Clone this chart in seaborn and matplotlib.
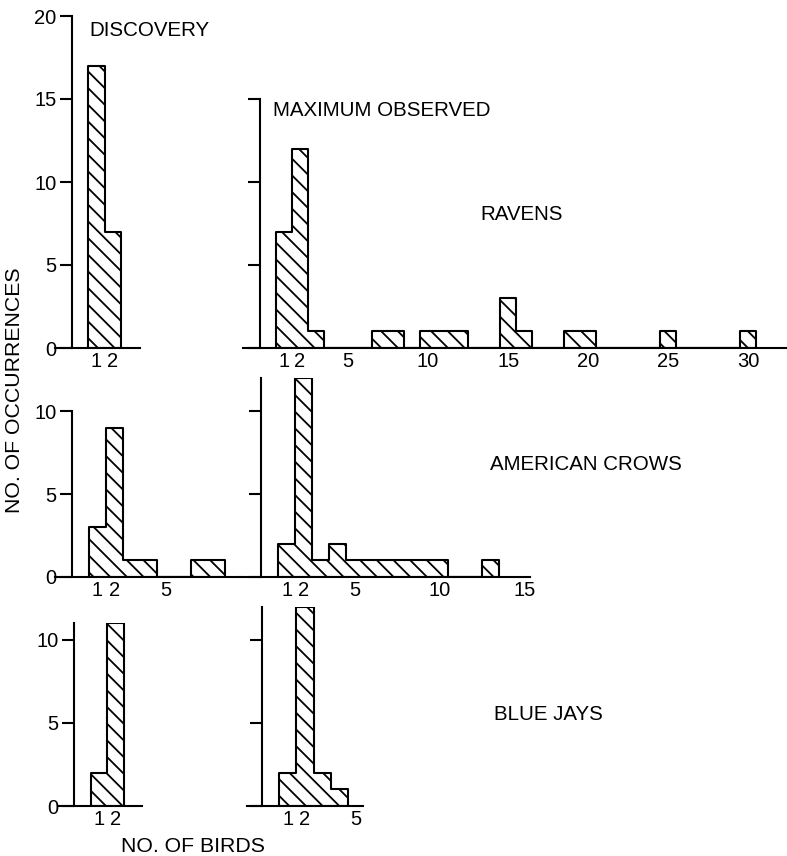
import matplotlib
matplotlib.use("Agg")
import matplotlib.pyplot as plt
import pandas as pd
import seaborn as sns

# ---------------------------------------------------------------------------
# Data: group size (no. of birds) -> no. of occurrences
# ---------------------------------------------------------------------------
RAVEN_DISC_BIRDS = [1, 2]
RAVEN_DISC_COUNTS = [17, 7]

RAVEN_MAX_BIRDS = [1, 2, 3, 7, 8, 10, 11, 12, 15, 16, 19, 20, 25, 30]
RAVEN_MAX_COUNTS = [7, 12, 1, 1, 1, 1, 1, 1, 3, 1, 1, 1, 1, 1]

CROW_DISC_BIRDS = [1, 2, 3, 4, 7, 8]
CROW_DISC_COUNTS = [3, 9, 1, 1, 1, 1]

CROW_MAX_BIRDS = [1, 2, 3, 4, 5, 6, 7, 8, 9, 10, 13]
CROW_MAX_COUNTS = [2, 12, 1, 2, 1, 1, 1, 1, 1, 1, 1]

JAY_DISC_BIRDS = [1, 2]
JAY_DISC_COUNTS = [2, 11]

JAY_MAX_BIRDS = [1, 2, 3, 4]
JAY_MAX_COUNTS = [2, 12, 2, 1]

RAVEN_XTICKS_DISC = [1, 2]
RAVEN_XTICKS_MAX = [1, 2, 5, 10, 15, 20, 25, 30]
CROW_XTICKS_DISC = [1, 2, 5]
CROW_XTICKS_MAX = [1, 2, 5, 10, 15]
JAY_XTICKS_DISC = [1, 2]
JAY_XTICKS_MAX = [1, 2, 5]

# ---------------------------------------------------------------------------
# Layout (pixels of the 787 x 856 output)
# ---------------------------------------------------------------------------
W, H = 787, 856
PX_PER_COUNT = 16.6

sns.set_theme(style="ticks")
plt.rcParams["font.family"] = ["Liberation Sans", "DejaVu Sans"]
plt.rcParams["text.color"] = "black"
plt.rcParams["hatch.linewidth"] = 1.3
plt.rcParams["hatch.color"] = "black"

LW = 1.5
TICK_FS = 14.5
TITLE_FS = 14.8


def draw_panel(fig, birds, counts, x0, x1, base, xlim, ytop, yticks, xticks,
               ylabels=True):
    """One step-histogram panel, positioned in pixel coordinates."""
    top = base - ytop * PX_PER_COUNT
    ax = fig.add_axes([x0 / W, 1 - base / H, (x1 - x0) / W, (base - top) / H])
    ax.set_facecolor("none")

    df = pd.DataFrame({"birds": birds, "count": counts})
    sns.histplot(
        data=df, x="birds", weights="count", discrete=True,
        element="step", fill=True, alpha=1,
        facecolor="white", edgecolor="black", linewidth=LW,
        hatch="\\\\", ax=ax,
    )

    ax.set_xlim(*xlim)
    ax.set_ylim(0, ytop)
    ax.set_xlabel("")
    ax.set_ylabel("")

    for side in ("top", "right"):
        ax.spines[side].set_visible(False)
    ax.spines["left"].set_position(("data", -0.5))
    ax.spines["left"].set_bounds(0, ytop)
    for side in ("left", "bottom"):
        ax.spines[side].set_linewidth(LW)
        ax.spines[side].set_color("black")

    ax.set_xticks(xticks)
    ax.set_xticklabels([str(t) for t in xticks])
    ax.set_yticks(yticks)
    ax.tick_params(axis="x", length=0, pad=3, labelsize=TICK_FS,
                   colors="black")
    ax.tick_params(axis="y", length=9, width=LW, pad=2, labelsize=TICK_FS,
                   colors="black", labelleft=ylabels)
    return ax


def fig_text(fig, x, y, s, **kw):
    fig.text(x / W, 1 - y / H, s, color="black", **kw)


fig = plt.figure(figsize=(W / 100, H / 100), dpi=100)

# ── Ravens ────────────────────────────────────────────────────────────
draw_panel(fig, RAVEN_DISC_BIRDS, RAVEN_DISC_COUNTS, 55, 140, 348,
           (-1.52, 3.64), 20, [0, 5, 10, 15, 20], RAVEN_XTICKS_DISC)
draw_panel(fig, RAVEN_MAX_BIRDS, RAVEN_MAX_COUNTS, 243, 790, 348,
           (-1.56, 32.6), 15, [0, 5, 10, 15], RAVEN_XTICKS_MAX,
           ylabels=False)

# ── American crows ────────────────────────────────────────────────────
draw_panel(fig, CROW_DISC_BIRDS, CROW_DISC_COUNTS, 55, 240, 577,
           (-1.5, 9.4), 10, [0, 5, 10], CROW_XTICKS_DISC)
draw_panel(fig, CROW_MAX_BIRDS, CROW_MAX_COUNTS, 240, 530, 577,
           (-1.76, 15.3), 12, [0, 5, 10], CROW_XTICKS_MAX, ylabels=False)

# ── Blue jays ─────────────────────────────────────────────────────────
draw_panel(fig, JAY_DISC_BIRDS, JAY_DISC_COUNTS, 58, 142, 806,
           (-1.46, 3.57), 11, [0, 5, 10], JAY_XTICKS_DISC)
draw_panel(fig, JAY_MAX_BIRDS, JAY_MAX_COUNTS, 247, 363, 806,
           (-1.41, 5.41), 12, [0, 5, 10], JAY_XTICKS_MAX, ylabels=False)

# ── Labels ────────────────────────────────────────────────────────────
fig_text(fig, 89, 31, "DISCOVERY", fontsize=TITLE_FS, va="center")
fig_text(fig, 273, 110, "MAXIMUM OBSERVED", fontsize=TITLE_FS, va="center")
fig_text(fig, 480, 215, "RAVENS", fontsize=TITLE_FS, va="center")
fig_text(fig, 490, 465, "AMERICAN CROWS", fontsize=TITLE_FS, va="center")
fig_text(fig, 494, 715, "BLUE JAYS", fontsize=TITLE_FS, va="center")
fig_text(fig, 121, 846, "NO. OF BIRDS", fontsize=15.3, va="center")
fig_text(fig, 15, 390, "NO. OF OCCURRENCES", fontsize=15.3, rotation=90,
         ha="center", va="center")

fig.savefig("out.png", dpi=100)
plt.close(fig)
